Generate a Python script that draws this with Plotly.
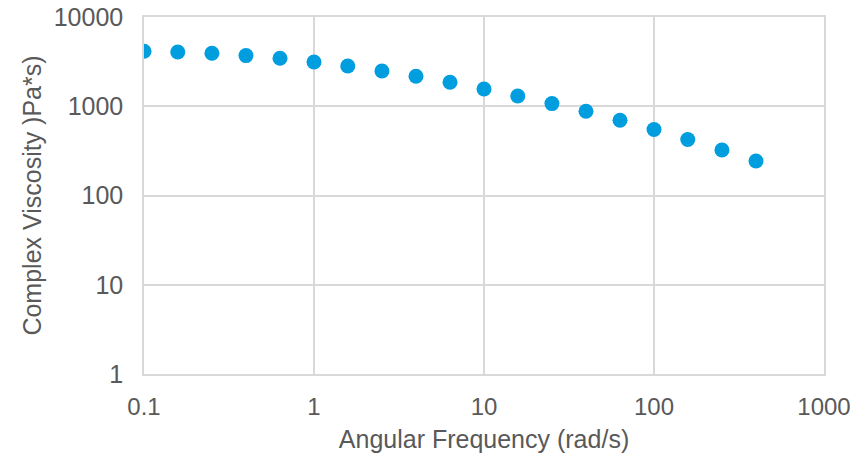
import plotly.graph_objects as go

# Angular frequency sweep (rad/s) and measured complex viscosity (Pa*s)
frequency = [0.1, 0.158, 0.251, 0.398, 0.631, 1.0, 1.58, 2.51, 3.98, 6.31,
             10.0, 15.8, 25.1, 39.8, 63.1, 100.0, 158.0, 251.0, 398.0]
viscosity = [4130, 4055, 3920, 3695, 3445, 3130, 2826, 2484, 2167, 1857,
             1563, 1304, 1071, 879, 697, 548, 424, 324, 244]

x_ticks = [0.1, 1, 10, 100, 1000]
x_tick_text = ["0.1", "1", "10", "100", "1000"]
y_ticks = [1, 10, 100, 1000, 10000]
y_tick_text = ["1", "10", "100", "1000", "10000"]

grid = "#d9d9d9"
text_col = "#595959"
font_main = "Liberation Sans, Arial, sans-serif"

fig = go.Figure(
    go.Scatter(
        x=frequency, y=viscosity, mode="markers",
        marker=dict(size=15, color="#009ddf", line=dict(width=0)),
        showlegend=False,
    )
)

fig.update_xaxes(
    type="log", range=[-1, 3],
    tickvals=x_ticks, ticktext=x_tick_text,
    showgrid=True, gridcolor=grid, gridwidth=1.5,
    showline=True, linecolor=grid, linewidth=1.5, mirror=True,
    ticks="outside", ticklen=10, tickcolor="rgba(0,0,0,0)",
    zeroline=False, automargin=False,
    tickfont=dict(family=font_main, size=24, color=text_col),
    title=dict(text="Angular Frequency (rad/s)",
               font=dict(family=font_main, size=25, color=text_col),
               standoff=12),
)
fig.update_yaxes(
    type="log", range=[0, 4],
    tickvals=y_ticks, ticktext=y_tick_text,
    showgrid=True, gridcolor=grid, gridwidth=1.5,
    showline=True, linecolor=grid, linewidth=1.5, mirror=True,
    ticks="outside", ticklen=14, tickcolor="rgba(0,0,0,0)",
    zeroline=False, automargin=False,
    tickfont=dict(family=font_main, size=25, color=text_col),
    title=dict(text="Complex Viscosity )Pa*s)",
               font=dict(family=font_main, size=25, color=text_col),
               standoff=5),
)

fig.update_layout(
    width=861, height=456,
    margin=dict(l=144, r=37, t=17, b=82),
    paper_bgcolor="white", plot_bgcolor="white",
)

fig.write_html("out.html")
